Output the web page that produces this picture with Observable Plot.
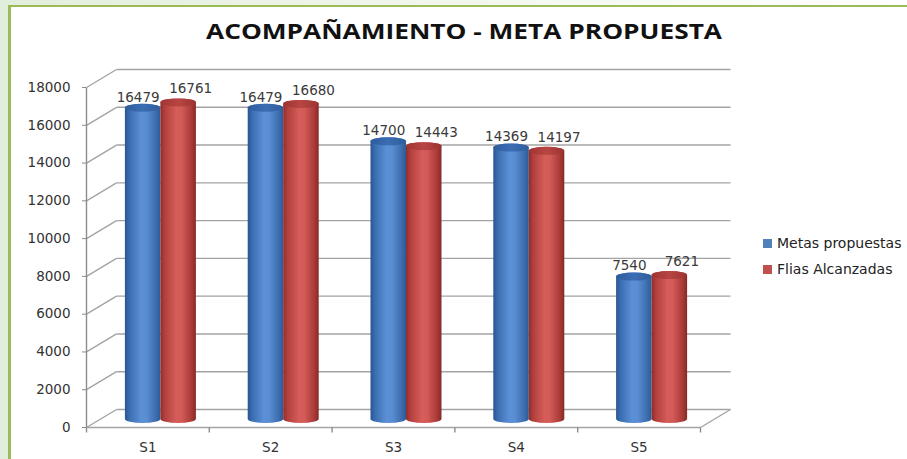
<!DOCTYPE html>
<html><head><meta charset="utf-8">
<script src="https://cdn.jsdelivr.net/npm/d3@7"></script>
<script src="https://cdn.jsdelivr.net/npm/@observablehq/plot@0.6"></script>
<style>
html,body{margin:0;padding:0;}
body{width:907px;height:459px;overflow:hidden;background:linear-gradient(90deg,#e2eedc,#f4f9f1 60%,#ffffff);font-family:"DejaVu Sans",sans-serif;}
#wrap{position:relative;width:907px;height:459px;}
#frame{position:absolute;left:8px;top:5px;width:910px;height:470px;background:#fff;border-left:3px solid #9bbb59;border-top:2px solid #9bbb59;}
#title{position:absolute;left:206px;top:19px;white-space:nowrap;font-family:"Open Sans",sans-serif;font-weight:700;font-size:21px;line-height:24px;color:#111;transform-origin:0 0;}
#chart{position:absolute;left:0;top:62px;}
#legend{position:absolute;left:763px;top:233px;font-size:14px;color:#222;}
.item{height:26px;line-height:20px;white-space:nowrap;}
.sw{display:inline-block;width:9px;height:9px;margin-right:5px;vertical-align:0px;}
</style></head>
<body><div id="wrap"><div id="frame"></div><div id="title">ACOMPAÑAMIENTO - META PROPUESTA</div><div id="chart"></div><div id="legend"></div></div>
<script>
const categories = ["S1","S2","S3","S4","S5"];
const metas = [16479,16479,14700,14369,7540];
const flias = [16761,16680,14443,14197,7621];
const seriesNames = ["Metas propuestas","Flias Alcanzadas"];
const yTicks = [0,2000,4000,6000,8000,10000,12000,14000,16000,18000];
const yTickLabels = ["0","2000","4000","6000","8000","10000","12000","14000","16000","18000"];

const W = 907, H = 397, mL = 86, mR = 207, mT = 25, mB = 32;
const pxX = (W - mL - mR) / categories.length;
const pxY = (H - mT - mB) / 18000;
const depthX = 30 / pxX, depthY = 18 / pxY;
const barPx = 35.5, barW = barPx / pxX;
const cylDx = 13, cylDy = -8, ry = 4;

const rowsA = categories.map((c, i) => ({cat: c, value: metas[i], x1: i + 0.5 - barW, x2: i + 0.5}));
const rowsB = categories.map((c, i) => ({cat: c, value: flias[i], x1: i + 0.5, x2: i + 0.5 + barW}));
const bounds = d3.range(categories.length + 1);
const grid = "#a3a3a3";

const svg = Plot.plot({
  width: W, height: H, marginLeft: mL, marginRight: mR, marginTop: mT, marginBottom: mB,
  style: {fontFamily: "DejaVu Sans", fontSize: "13.5px", color: "#8a8a8a", background: "transparent", overflow: "visible"},
  x: {type: "linear", domain: [0, categories.length], ticks: categories.map((c, i) => i + 0.5),
      tickFormat: d => categories[Math.round(d - 0.5)], tickSize: 0, tickPadding: 15, label: null},
  y: {domain: [0, 18000], ticks: yTicks, tickFormat: d => yTickLabels[yTicks.indexOf(d)], tickSize: 4, tickPadding: 12, label: null},
  marks: [
    Plot.link(yTicks, {x1: depthX, x2: categories.length + depthX, y1: d => d + depthY, y2: d => d + depthY, stroke: grid, strokeWidth: 1.4}),
    Plot.link(yTicks, {x1: 0, x2: depthX, y1: d => d, y2: d => d + depthY, stroke: grid, strokeWidth: 1.4}),
    Plot.link([0], {x1: 0, x2: categories.length, y1: 0, y2: 0, stroke: grid, strokeWidth: 1.4}),
    Plot.link([0], {x1: categories.length, x2: categories.length + depthX, y1: 0, y2: depthY, stroke: grid, strokeWidth: 1.4}),
    Plot.link([0], {x1: 0, x2: 0, y1: 0, y2: 18000, stroke: "#8c8c8c", strokeWidth: 1.4}),
    Plot.link(bounds, {x1: d => d, x2: d => d, y1: 0, y2: -5 / pxY, stroke: "#8c8c8c", strokeWidth: 1.4}),
    Plot.rect(rowsA, {x1: "x1", x2: "x2", y1: 0, y2: "value", dx: cylDx, dy: cylDy, insetTop: -ry, insetBottom: -ry, rx: barPx / 2, ry, fill: "url(#gBlue)"}),
    Plot.rect(rowsA, {x1: "x1", x2: "x2", y1: "value", y2: "value", dx: cylDx, dy: cylDy, insetTop: -ry, insetBottom: -ry, rx: barPx / 2, ry, fill: "url(#gBlueTop)"}),
    Plot.rect(rowsB, {x1: "x1", x2: "x2", y1: 0, y2: "value", dx: cylDx, dy: cylDy, insetTop: -ry, insetBottom: -ry, rx: barPx / 2, ry, fill: "url(#gRed)"}),
    Plot.rect(rowsB, {x1: "x1", x2: "x2", y1: "value", y2: "value", dx: cylDx, dy: cylDy, insetTop: -ry, insetBottom: -ry, rx: barPx / 2, ry, fill: "url(#gRedTop)"}),
    Plot.text(rowsA, {x: d => (d.x1 + d.x2) / 2, y: "value", text: d => String(d.value), dx: cylDx - 5, dy: -19, fill: "#3a3a3a", fontSize: 13.5}),
    Plot.text(rowsB, {x: d => (d.x1 + d.x2) / 2, y: "value", text: d => String(d.value), dx: cylDx + 12, dy: -22, fill: "#3a3a3a", fontSize: 13.5})
  ]
});

const s = d3.select(svg);
const defs = s.insert("defs", ":first-child");
function grad(id, stops) {
  const g = defs.append("linearGradient").attr("id", id).attr("x1", "0").attr("x2", "1").attr("y1", "0").attr("y2", "0");
  stops.forEach(([o, c]) => g.append("stop").attr("offset", o).attr("stop-color", c));
}
grad("gBlue", [["0", "#2a5590"], ["0.12", "#3a6cb0"], ["0.45", "#5b90d6"], ["0.6", "#5a8ed3"], ["0.88", "#3c6cad"], ["1", "#2c5a96"]]);
grad("gBlueTop", [["0", "#2d5c9c"], ["0.5", "#3b6db3"], ["1", "#2f5d9c"]]);
grad("gRed", [["0", "#8f2d2b"], ["0.12", "#b23f3c"], ["0.45", "#d55d5a"], ["0.6", "#d35a57"], ["0.88", "#a83a37"], ["1", "#862927"]]);
grad("gRedTop", [["0", "#9e3432"], ["0.5", "#b84643"], ["1", "#9c3331"]]);
s.selectAll('[aria-label^="y-axis"] text, [aria-label^="x-axis"] text').attr("fill", "#333");
document.getElementById("chart").appendChild(svg);

const colors = ["#4f81bd", "#c0504d"];
const leg = d3.select("#legend");
seriesNames.forEach((n, i) => {
  const it = leg.append("div").attr("class", "item");
  it.append("span").attr("class", "sw").style("background", colors[i]);
  it.append("span").text(n);
});

const t = document.getElementById("title");
const tw = t.getBoundingClientRect().width;
t.style.transform = `scaleX(${516 / tw})`;
</script></body></html>
